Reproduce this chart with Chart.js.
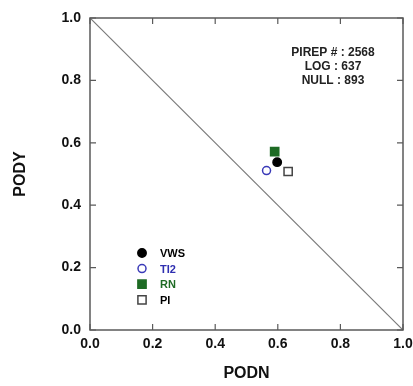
<!DOCTYPE html>
<html>
<head>
<meta charset="utf-8">
<script src="https://cdn.jsdelivr.net/npm/chart.js@4.4.1/dist/chart.umd.min.js"></script>
<style>
  html, body { margin: 0; padding: 0; background: #fff; }
  #wrap { width: 413px; height: 386px; position: relative; }
</style>
</head>
<body>
<div id="wrap"><canvas id="skill"></canvas></div>
<script>
// Données (PODN, PODY)
const seriesNames = ['VWS', 'TI2', 'RN', 'PI'];
const podnValues = [0.598, 0.564, 0.590, 0.633];
const podyValues = [0.538, 0.511, 0.572, 0.508];
const axisTicks = [0.0, 0.2, 0.4, 0.6, 0.8, 1.0];
const countLines = ['PIREP # : 2568', 'LOG : 637', 'NULL : 893'];
const diagX = [0, 1];
const diagY = [1, 0];

// Styles des marqueurs
const markerStyles = {
  'VWS': { pointStyle: 'circle', radius: 4.2, fill: '#000000', stroke: '#000000', text: '#000000' },
  'TI2': { pointStyle: 'circle', radius: 4, fill: '#ffffff', stroke: '#3a3ab8', text: '#2f2fb0' },
  'RN': { pointStyle: 'rect', radius: 5.8, fill: '#1e6b24', stroke: '#1e6b24', text: '#1e6b24' },
  'PI': { pointStyle: 'rect', radius: 5.8, fill: '#ffffff', stroke: '#444444', text: '#000000' }
};

const axisColor = '#5a5a5a';

const datasets = seriesNames.map((name, i) => {
  const s = markerStyles[name];
  return {
    label: name,
    data: [{ x: podnValues[i], y: podyValues[i] }],
    pointStyle: s.pointStyle,
    pointRadius: s.radius,
    pointHoverRadius: s.radius,
    backgroundColor: s.fill,
    borderColor: s.stroke,
    borderWidth: 1.5,
    showLine: false
  };
});

// Diagonale
datasets.unshift({
  label: 'diag',
  data: diagX.map((x, i) => ({ x: x, y: diagY[i] })),
  showLine: true,
  borderColor: '#7a7a7a',
  borderWidth: 1.2,
  pointRadius: 0,
  fill: false
});

// Cadre, graduations internes, légende et texte
const framePlugin = {
  id: 'frame',
  afterDatasetsDraw(chart) {
    const ctx = chart.ctx;
    const a = chart.chartArea;
    const xs = chart.scales.x, ys = chart.scales.y;
    ctx.save();
    ctx.strokeStyle = axisColor;
    ctx.lineWidth = 1.5;
    ctx.strokeRect(a.left, a.top, a.right - a.left, a.bottom - a.top);
    ctx.lineWidth = 1.2;
    const tl = 6;
    axisTicks.forEach(v => {
      const px = xs.getPixelForValue(v);
      const py = ys.getPixelForValue(v);
      ctx.beginPath();
      ctx.moveTo(px, a.bottom); ctx.lineTo(px, a.bottom - tl);
      ctx.moveTo(px, a.top); ctx.lineTo(px, a.top + tl);
      ctx.moveTo(a.left, py); ctx.lineTo(a.left + tl, py);
      ctx.moveTo(a.right, py); ctx.lineTo(a.right - tl, py);
      ctx.stroke();
    });

    // Légende
    const lx = a.left + 52, tx = a.left + 70;
    const ly0 = a.top + 235, dy = 15.6;
    ctx.font = 'bold 11px "Liberation Sans", Arial, sans-serif';
    ctx.textBaseline = 'middle';
    ctx.textAlign = 'left';
    seriesNames.forEach((name, i) => {
      const s = markerStyles[name];
      const y = ly0 + i * dy;
      ctx.fillStyle = s.fill;
      ctx.strokeStyle = s.stroke;
      ctx.lineWidth = 1.5;
      Chart.helpers.drawPoint(ctx, { pointStyle: s.pointStyle, radius: s.radius, rotation: 0, borderWidth: 1.5 }, lx, y);
      ctx.fillStyle = s.text;
      ctx.fillText(name, tx, y + 1);
    });

    // Comptes
    ctx.font = 'bold 12px "Liberation Sans", Arial, sans-serif';
    ctx.fillStyle = '#222';
    ctx.textAlign = 'center';
    countLines.forEach((t, i) => {
      ctx.fillText(t, a.left + 243, a.top + 35 + i * 14);
    });
    ctx.restore();
  }
};

const ctx = document.getElementById('skill').getContext('2d');
new Chart(ctx, {
  type: 'scatter',
  data: { datasets: datasets },
  plugins: [framePlugin],
  options: {
    responsive: true,
    maintainAspectRatio: false,
    animation: false,
    layout: { padding: { top: 18, right: 10, left: 0, bottom: 0 } },
    plugins: {
      legend: { display: false },
      tooltip: { enabled: false }
    },
    scales: {
      x: {
        type: 'linear',
        min: 0, max: 1,
        afterFit: s => { s.height = 56; s.paddingLeft = 0; s.paddingRight = 0; },
        afterBuildTicks: s => { s.ticks = axisTicks.map(v => ({ value: v })); },
        grid: { display: false, drawTicks: false },
        border: { display: false },
        ticks: {
          padding: 6,
          color: '#111',
          font: { family: '"Liberation Sans", Arial, sans-serif', size: 14, weight: 'bold' },
          callback: v => Number(v).toFixed(1)
        },
        title: {
          display: true,
          text: 'PODN',
          color: '#111',
          padding: { top: 0, bottom: 3 },
          font: { family: '"Liberation Sans", Arial, sans-serif', size: 16, weight: 'bold' }
        }
      },
      y: {
        type: 'linear',
        min: 0, max: 1,
        afterFit: s => { s.width = 90; s.paddingTop = 0; s.paddingBottom = 0; },
        afterBuildTicks: s => { s.ticks = axisTicks.map(v => ({ value: v })); },
        grid: { display: false, drawTicks: false },
        border: { display: false },
        ticks: {
          padding: 9,
          color: '#111',
          font: { family: '"Liberation Sans", Arial, sans-serif', size: 14, weight: 'bold' },
          callback: v => Number(v).toFixed(1)
        },
        title: {
          display: true,
          text: 'PODY',
          color: '#111',
          padding: { top: 11, bottom: 0 },
          font: { family: '"Liberation Sans", Arial, sans-serif', size: 16, weight: 'bold' }
        }
      }
    }
  }
});
</script>
</body>
</html>
